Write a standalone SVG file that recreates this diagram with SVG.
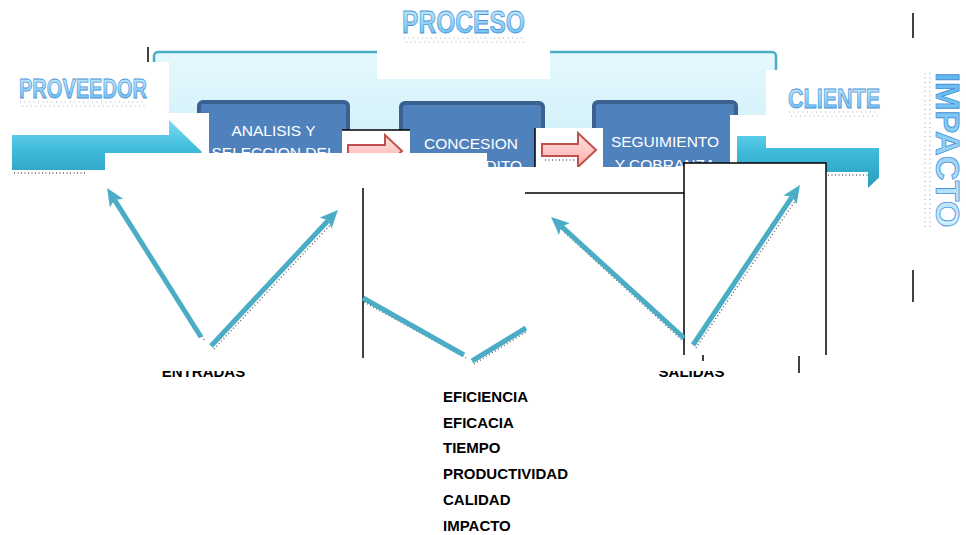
<svg xmlns="http://www.w3.org/2000/svg" width="966" height="535" viewBox="0 0 966 535">
<defs>
  <linearGradient id="panelG" x1="0" y1="0" x2="0" y2="1">
    <stop offset="0" stop-color="#e6f8fd"/>
    <stop offset="1" stop-color="#bfeaf7"/>
  </linearGradient>
  <linearGradient id="tealG" x1="0" y1="0" x2="0" y2="1">
    <stop offset="0" stop-color="#7adcf2"/>
    <stop offset="0.45" stop-color="#3fbbdb"/>
    <stop offset="1" stop-color="#2a9cbd"/>
  </linearGradient>
  <linearGradient id="pinkG" x1="0" y1="0" x2="0" y2="1">
    <stop offset="0" stop-color="#ffe3e3"/>
    <stop offset="1" stop-color="#ffabab"/>
  </linearGradient>
  <linearGradient id="wordG" x1="0" y1="0" x2="0" y2="1">
    <stop offset="0" stop-color="#cfeffd"/>
    <stop offset="1" stop-color="#5fb6f0"/>
  </linearGradient>
  <linearGradient id="wordGv" x1="1" y1="0" x2="0" y2="0">
    <stop offset="0" stop-color="#cfeffd"/>
    <stop offset="1" stop-color="#5fb6f0"/>
  </linearGradient>
  <marker id="ah" markerUnits="userSpaceOnUse" markerWidth="20" markerHeight="18" viewBox="0 -9 20 18" refX="4" refY="0" orient="auto">
    <path d="M0,-8 L18,0 L0,8 L4,0 Z" fill="#4bacc6"/>
  </marker>
  <clipPath id="clipR"><rect x="700" y="100" width="179" height="120"/></clipPath>
</defs>
<style>
  .box{fill:#4f81bd;stroke:#3a6190;stroke-width:4}
  .bt{font-family:"Liberation Sans",Arial,sans-serif;font-size:15.5px;fill:#ffffff;text-anchor:middle}
  .word{font-family:"Liberation Sans",Arial,sans-serif;font-weight:bold;fill:url(#wordG);stroke:#4a93d6;stroke-width:0.8;text-anchor:middle}
  .dots{stroke:#8a9aae;stroke-width:1.2;stroke-dasharray:1 3.5;fill:none;opacity:0.8}
  .conn{stroke:#4bacc6;stroke-width:5;fill:none;stroke-linecap:butt}
  .sh{stroke:#222222;stroke-width:1.4;stroke-dasharray:1 2.5;fill:none;opacity:0.7}
  .k{stroke:#000000;stroke-width:1.5;fill:none}
  .lst{font-family:"Liberation Sans",Arial,sans-serif;font-weight:bold;font-size:15px;fill:#000000}
  .w{fill:#ffffff}
  .pink{fill:url(#pinkG);stroke:#c0504d;stroke-width:2}
  .teal{fill:url(#tealG)}
</style>
<rect x="0" y="0" width="966" height="535" fill="#ffffff"/>

<g id="proceso-panel">
  <rect x="154" y="52" width="622" height="160" rx="4" fill="url(#panelG)" stroke="#4bacc6" stroke-width="2.5"/>
</g>

<g id="node-analisis">
  <rect class="box" x="199" y="102" width="149" height="100" rx="4"/>
  <text class="bt" x="273.5" y="136">ANALISIS Y</text>
  <text class="bt" x="273.5" y="158">SELECCION DEL</text>
</g>
<g id="node-concesion">
  <rect class="box" x="401" y="103" width="142" height="100" rx="4"/>
  <text class="bt" x="471" y="149">CONCESION</text>
  <text class="bt" x="522" y="171" style="text-anchor:end">DE CREDITO</text>
</g>
<g id="node-seguimiento">
  <rect class="box" x="594" y="102" width="142" height="100" rx="4"/>
  <text class="bt" x="665" y="147">SEGUIMIENTO</text>
  <text class="bt" x="665" y="170">Y COBRANZA</text>
</g>

<g id="node-proceso-label">
  <rect class="w" x="377" y="0" width="173" height="79"/>
  <line class="dots" x1="404" y1="38" x2="524" y2="38"/>
  <line class="dots" x1="406" y1="42" x2="524" y2="42"/>
  <text class="word" x="463.5" y="33" font-size="31" textLength="123" lengthAdjust="spacingAndGlyphs">PROCESO</text>
</g>

<g id="node-proveedor">
  <rect class="w" x="0" y="62" width="169" height="51"/>
  <rect class="w" x="0" y="113" width="209" height="40"/>
  <line class="dots" x1="20" y1="102" x2="146" y2="102"/>
  <line class="dots" x1="22" y1="106" x2="146" y2="106"/>
  <text class="word" x="83" y="98" font-size="27" textLength="128" lengthAdjust="spacingAndGlyphs">PROVEEDOR</text>
  <polyline class="sh" points="14,173 86,173"/>
  <polygon class="teal" points="12,135 169,135 169,120 202,152 169,185 169,170 12,170"/>
</g>

<g id="node-flecha1">
  <rect class="w" x="342" y="130" width="68" height="40"/>
  <line class="k" x1="342" y1="130" x2="410" y2="130"/>
  <polygon class="pink" points="348,145 385,145 385,135 402,151 385,167 385,157 348,157"/>
</g>
<g id="node-flecha2">
  <rect class="w" x="535" y="128" width="68" height="39"/>
  <line class="k" x1="535" y1="128" x2="535" y2="167"/>
  <polyline class="sh" points="545,160 576,160"/>
  <polygon class="pink" points="542,144 578,144 578,133 596,150 578,167 578,156 542,156"/>
</g>

<g id="cubiertas">
  <rect class="w" x="105" y="153" width="382" height="382"/>
  <rect class="w" x="487" y="167" width="197" height="368"/>
  <rect class="w" x="730" y="115" width="36" height="48"/>
</g>

<g id="node-cliente">
  <g clip-path="url(#clipR)">
    <polygon class="teal" points="737,136 868,136 868,120 904,154 868,188 868,172 737,172"/>
    <polyline class="sh" points="828,175 870,175"/>
  </g>
  <rect class="w" x="766" y="70" width="114" height="78"/>
  <line class="dots" x1="789" y1="112" x2="879" y2="112"/>
  <line class="dots" x1="791" y1="116" x2="879" y2="116"/>
  <text class="word" x="834" y="108" font-size="27" textLength="92" lengthAdjust="spacingAndGlyphs">CLIENTE</text>
</g>

<g id="node-marco-salidas">
  <path d="M684,355 V163 H826 V355" fill="#ffffff" stroke="#000000" stroke-width="1.5"/>
</g>

<g id="node-impacto">
  <line class="dots" x1="925" y1="73" x2="925" y2="227"/>
  <line class="dots" x1="930" y1="73" x2="930" y2="227"/>
  <text class="word" transform="translate(936,150) rotate(90)" font-size="33" textLength="155" lengthAdjust="spacingAndGlyphs" style="fill:url(#wordGv)">IMPACTO</text>
</g>

<g id="lineas">
  <line class="k" x1="148" y1="47" x2="148" y2="62"/>
  <line class="k" x1="525" y1="193" x2="684" y2="193"/>
  <line class="k" x1="363" y1="188" x2="363" y2="358"/>
  <line class="k" x1="913" y1="13" x2="913" y2="38" stroke-width="2.5"/>
  <line class="k" x1="913" y1="270" x2="913" y2="302" stroke-width="2.5"/>
</g>

<g id="connectors">
  <g id="sombras">
    <line class="sh" x1="204" y1="340" x2="116" y2="200"/>
    <line class="sh" x1="214" y1="349" x2="333" y2="222"/>
    <line class="sh" x1="364" y1="302" x2="466" y2="358"/>
    <line class="sh" x1="474" y1="364" x2="526" y2="332"/>
    <line class="sh" x1="684" y1="342" x2="563" y2="231"/>
    <line class="sh" x1="696" y1="348" x2="797" y2="198"/>
  </g>
  <line class="conn" x1="201" y1="337" x2="114.5" y2="199.8" marker-end="url(#ah)"/>
  <line class="conn" x1="211" y1="346" x2="328.4" y2="220.2" marker-end="url(#ah)"/>
  <line class="conn" x1="363" y1="298" x2="464" y2="355"/>
  <line class="conn" x1="472" y1="361" x2="526" y2="328"/>
  <line class="conn" x1="684" y1="338" x2="561.4" y2="226.4" marker-end="url(#ah)"/>
  <line class="conn" x1="693" y1="345" x2="792.2" y2="196.6" marker-end="url(#ah)"/>
</g>

<g id="node-entradas">
  <text class="lst" x="203.5" y="377" text-anchor="middle">ENTRADAS</text>
  <rect class="w" x="150" y="352" width="110" height="19"/>
</g>
<g id="node-salidas">
  <text class="lst" x="691.5" y="377" text-anchor="middle">SALIDAS</text>
  <rect class="w" x="650" y="356" width="85" height="15"/>
  <line class="k" x1="703" y1="355" x2="703" y2="361"/>
  <line class="k" x1="799" y1="356" x2="799" y2="373"/>
</g>

<g id="node-indicadores">
  <text class="lst" x="443" y="402">EFICIENCIA</text>
  <text class="lst" x="443" y="428">EFICACIA</text>
  <text class="lst" x="443" y="453">TIEMPO</text>
  <text class="lst" x="443" y="479">PRODUCTIVIDAD</text>
  <text class="lst" x="443" y="505">CALIDAD</text>
  <text class="lst" x="443" y="531">IMPACTO</text>
</g>
</svg>
